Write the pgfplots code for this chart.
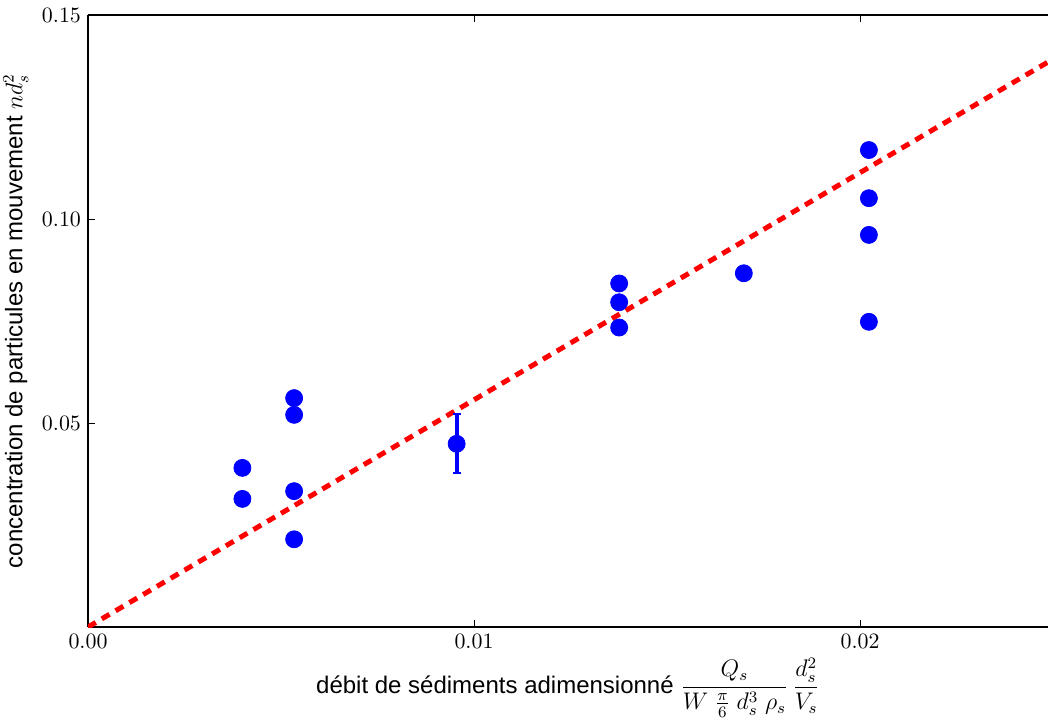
\documentclass[border=0pt]{standalone}
\usepackage[no-math]{fontspec}
\newfontfamily\labelfont{Liberation Sans}
\usepackage{pgfplots}
\pgfplotsset{compat=1.18}
\begin{document}
\begin{tikzpicture}
\begin{axis}[
  name=ax,
  scale only axis,
  width=480pt, height=306pt,
  xmin=0, xmax=0.02487,
  ymin=0, ymax=0.15,
  axis x line*=box,
  axis y line*=left,
  axis line style={line width=1.3pt, -},
  xtick={0,0.01,0.02},
  xticklabels={$0.00$,$0.01$,$0.02$},
  ytick={0.05,0.10,0.15},
  yticklabels={$0.05$,$0.10$,$0.15$},
  scaled ticks=false,
  tick align=inside,
  major tick length=3.5pt,
  tick style={line width=0.5pt, black},
  tick label style={font=\fontsize{10.95}{12}\selectfont},
  label style={font=\labelfont\fontsize{12}{14}\selectfont},
  xlabel={débit de sédiments adimensionné $\displaystyle\frac{Q_s}{W\;\frac{\pi}{6}\;d_s^3\;\rho_s}\,\frac{d_s^2}{V_s}$},
  ylabel={concentration de particules en mouvement $nd_s^2$},
  xlabel style={yshift=2pt},
  clip=true,
]
\addplot[red, line width=2.5pt, dash pattern=on 4.5pt off 3.5pt] coordinates {(0,0) (0.025,0.1392)};
\addplot[only marks, mark=*, mark size=4.25pt, color=blue, mark options={fill=blue, draw=blue}] coordinates {
  (0.0040,0.0390) (0.0040,0.0314)
  (0.00534,0.0561) (0.00534,0.0520) (0.00534,0.0333) (0.00534,0.0215)
  (0.01376,0.0842) (0.01376,0.0796) (0.01376,0.0734)
  (0.01699,0.0867)
  (0.02023,0.1169) (0.02023,0.1051) (0.02023,0.0961) (0.02023,0.0748)
};
\addplot[only marks, mark=*, mark size=4.25pt, color=blue, mark options={fill=blue, draw=blue},
  error bars/.cd, y dir=both, y explicit,
  error bar style={line width=2pt, blue},
  error mark options={rotate=90, mark size=2pt, line width=1pt, blue}]
  coordinates {(0.00955,0.0449) +- (0,0.0072)};
\end{axis}
\pgfresetboundingbox
\path ([xshift=-44pt, yshift=-45.5pt]ax.south west) rectangle ([yshift=7.5pt]ax.north east);
\end{tikzpicture}
\end{document}
